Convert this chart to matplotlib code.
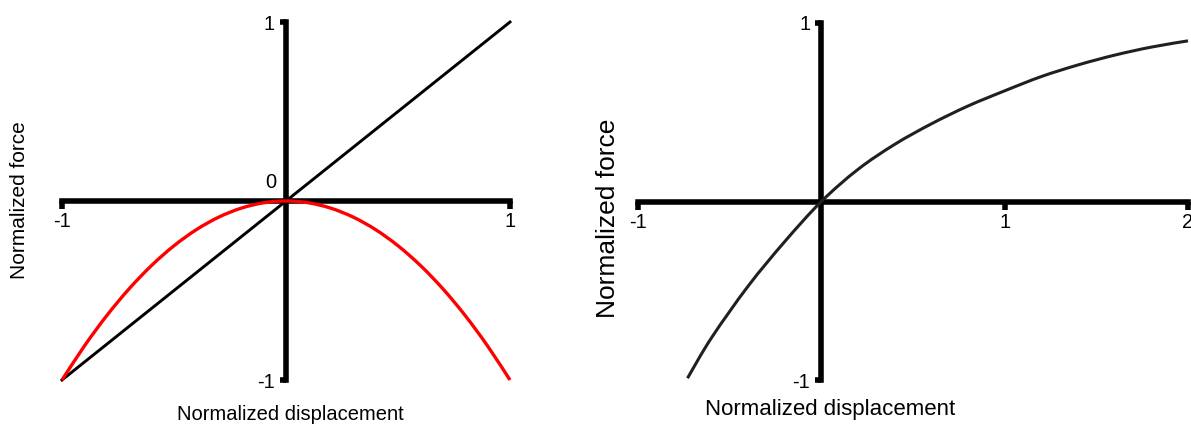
import numpy as np
import matplotlib
matplotlib.use("Agg")
import matplotlib.pyplot as plt
from matplotlib.path import Path
from matplotlib.patches import PathPatch

plt.rcParams['font.family'] = ['Liberation Sans', 'DejaVu Sans']

# Left panel: linear spring and quadratic response
linear_x = [-1.0, 1.0]
linear_y = [-1.0, 1.0]
quad_x = [-1.0, -0.9, -0.8, -0.7, -0.6, -0.5, -0.4, -0.3, -0.2, -0.1, 0.0,
          0.1, 0.2, 0.3, 0.4, 0.5, 0.6, 0.7, 0.8, 0.9, 1.0]
quad_y = [-1.0, -0.81, -0.64, -0.49, -0.36, -0.25, -0.16, -0.09, -0.04, -0.01, 0.0,
          -0.01, -0.04, -0.09, -0.16, -0.25, -0.36, -0.49, -0.64, -0.81, -1.0]

# Right panel: saturating response
sat_x = [-0.73, -0.6, -0.4, -0.2, 0.0, 0.2, 0.4, 0.6, 0.8, 1.0,
         1.2, 1.4, 1.6, 1.8, 2.0]
sat_y = [-0.99, -0.765, -0.475, -0.225, 0.0, 0.18, 0.32, 0.435, 0.535, 0.62,
         0.70, 0.765, 0.82, 0.865, 0.90]

left_xticks = [-1, 1]
left_yticks = [-1, 1]
right_xticks = [-1, 1, 2]
right_yticks = [-1, 1]

W, H = 1191, 426
fig = plt.figure(figsize=(W / 100, H / 100), dpi=100)

ax1 = fig.add_axes([62 / W, 46 / H, 448 / W, 358 / H])
ax2 = fig.add_axes([638 / W, 46 / H, 550 / W, 357 / H])

AXIS_LW = 4.0
TICK_FS = 14.5


def style_axes(ax, xlim, ylim, xticks, yticks):
    ax.set_xlim(*xlim)
    ax.set_ylim(*ylim)
    for side in ('top', 'right'):
        ax.spines[side].set_visible(False)
    for side in ('left', 'bottom'):
        ax.spines[side].set_position(('data', 0))
        ax.spines[side].set_linewidth(AXIS_LW)
        ax.spines[side].set_color('black')
        ax.spines[side].set_zorder(2)
    ax.set_xticks(xticks)
    ax.set_yticks(yticks)
    ax.set_xticklabels([str(t) for t in xticks])
    ax.set_yticklabels([str(t) for t in yticks])
    ax.tick_params(axis='x', direction='out', length=6, width=AXIS_LW,
                   pad=2, labelsize=TICK_FS)
    ax.tick_params(axis='y', direction='out', length=4, width=AXIS_LW,
                   pad=4, labelsize=TICK_FS)
    ax.patch.set_visible(False)


def smooth_curve(ax, xs, ys, **kw):
    """Draw a smooth Catmull-Rom curve through the given points."""
    pts = np.column_stack([xs, ys]).astype(float)
    n = len(pts)
    verts = [pts[0]]
    codes = [Path.MOVETO]
    for i in range(n - 1):
        p0 = pts[i - 1] if i > 0 else pts[i]
        p1 = pts[i]
        p2 = pts[i + 1]
        p3 = pts[i + 2] if i + 2 < n else pts[i + 1]
        c1 = p1 + (p2 - p0) / 6.0
        c2 = p2 - (p3 - p1) / 6.0
        verts += [c1, c2, p2]
        codes += [Path.CURVE4] * 3
    patch = PathPatch(Path(verts, codes), fill=False, transform=ax.transData,
                      clip_on=False, capstyle='butt', joinstyle='round', **kw)
    ax.add_patch(patch)
    return patch


style_axes(ax1, (-1, 1), (-1, 1), left_xticks, left_yticks)
style_axes(ax2, (-1, 2), (-1, 1), right_xticks, right_yticks)

ax1.plot(linear_x, linear_y, color='black', lw=2.1, zorder=3, clip_on=False)
smooth_curve(ax1, quad_x, quad_y, edgecolor='#ff0000', lw=2.4, zorder=4)
ax1.annotate('0', xy=(0, 0), xytext=(-11, 13), textcoords='offset points',
             ha='center', va='center', fontsize=TICK_FS)

smooth_curve(ax2, sat_x, sat_y, edgecolor='#231f20', lw=2.2, zorder=3)

ax1.set_xlabel('Normalized displacement', fontsize=14.5, va='center')
ax1.xaxis.set_label_coords(0.509, -0.095)
ax1.set_ylabel('Normalized force', fontsize=15, va='center')
ax1.yaxis.set_label_coords(-0.094, 0.503)

ax2.set_xlabel('Normalized displacement', fontsize=16, va='center')
ax2.xaxis.set_label_coords(0.349, -0.084)
ax2.set_ylabel('Normalized force', fontsize=19, va='center')
ax2.yaxis.set_label_coords(-0.0545, 0.454)

fig.savefig('out.png', dpi=100)
